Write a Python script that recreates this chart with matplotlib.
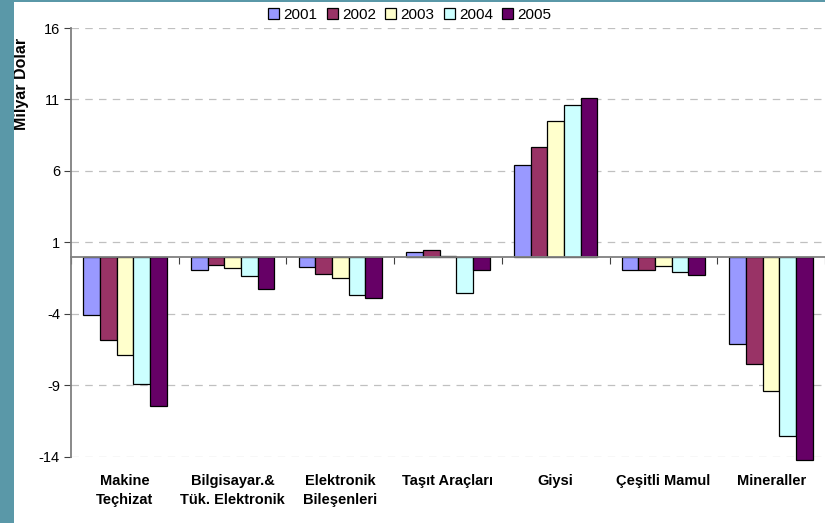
import numpy as np
import matplotlib
matplotlib.use("Agg")
import matplotlib.pyplot as plt
from matplotlib.patches import Rectangle
from matplotlib.transforms import blended_transform_factory

plt.rcParams['font.family'] = ['Liberation Sans', 'DejaVu Sans']

categories = ["Makine\nTeçhizat", "Bilgisayar.&\nTük. Elektronik", "Elektronik\nBileşenleri",
              "Taşıt Araçları", "Giysi", "Çeşitli Mamul", "Mineraller"]
years = ["2001", "2002", "2003", "2004", "2005"]
colors = ["#9999FF", "#993366", "#FFFFCC", "#CCFFFF", "#660066"]

v2001 = [-4.1, -0.9, -0.7, 0.35, 6.45, -0.93, -6.1]
v2002 = [-5.8, -0.55, -1.2, 0.5, 7.7, -0.93, -7.5]
v2003 = [-6.9, -0.8, -1.5, 0.05, 9.5, -0.65, -9.35]
v2004 = [-8.9, -1.35, -2.7, -2.5, 10.6, -1.05, -12.55]
v2005 = [-10.4, -2.25, -2.9, -0.95, 11.1, -1.3, -14.2]
series = [v2001, v2002, v2003, v2004, v2005]
yticks = [16, 11, 6, 1, -4, -9, -14]

fig = plt.figure(figsize=(8.25, 5.23), dpi=100)
ax = fig.add_axes([71 / 825, 1 - 457 / 523, 754 / 825, 429 / 523])

x = np.arange(len(categories))
w = 0.155
for i, (vals, c, yr) in enumerate(zip(series, colors, years)):
    ax.bar(x + (i - 2) * w, vals, width=w, color=c, edgecolor="black",
           linewidth=0.9, label=yr, zorder=3, clip_on=False)

ax.set_xlim(-0.5, len(categories) - 0.5)
ax.set_ylim(-14, 16)
ax.set_yticks(yticks)
ax.set_yticklabels([str(t) for t in yticks], fontsize=10.5)
ax.yaxis.grid(True, linestyle=(0, (6, 5)), color="#c0c0c0", linewidth=0.9, zorder=0)

for s in ["top", "right"]:
    ax.spines[s].set_visible(False)
ax.spines["left"].set_color("#808080")
ax.spines["left"].set_linewidth(1.3)
ax.spines["bottom"].set_position(("data", 0))
ax.spines["bottom"].set_color("#808080")
ax.spines["bottom"].set_linewidth(1.3)
ax.spines["bottom"].set_zorder(4)

ax.set_xticks(np.arange(len(categories) + 1) - 0.5)
ax.set_xticklabels([])
ax.tick_params(axis="x", length=5, color="#404040", direction="out")
ax.tick_params(axis="y", length=5, color="#404040", pad=3)

trans = blended_transform_factory(ax.transData, ax.transAxes)
for xi, lab in zip(x, categories):
    ax.text(xi, -0.04, lab, transform=trans, ha="center", va="top",
            fontsize=10.5, fontweight="bold", linespacing=1.45)

fig.text(22 / 825, 1 - 84 / 523, "Milyar Dolar", rotation=90, ha="center",
         va="center", fontsize=11.5, fontweight="bold")

fig.legend(loc="center", bbox_to_anchor=(410 / 825, 1 - 15 / 523), ncol=5,
           frameon=False, fontsize=11, handlelength=0.7, handleheight=0.7,
           handletextpad=0.3, columnspacing=0.6)

# teal frame on the left and top
fig.patches.append(Rectangle((0, 0), 14 / 825, 1, transform=fig.transFigure,
                             facecolor="#5a98a8", edgecolor="none", zorder=10))
fig.patches.append(Rectangle((0, 1 - 2 / 523), 1, 2 / 523, transform=fig.transFigure,
                             facecolor="#5a98a8", edgecolor="none", zorder=10))

fig.savefig("out.png", dpi=100)
